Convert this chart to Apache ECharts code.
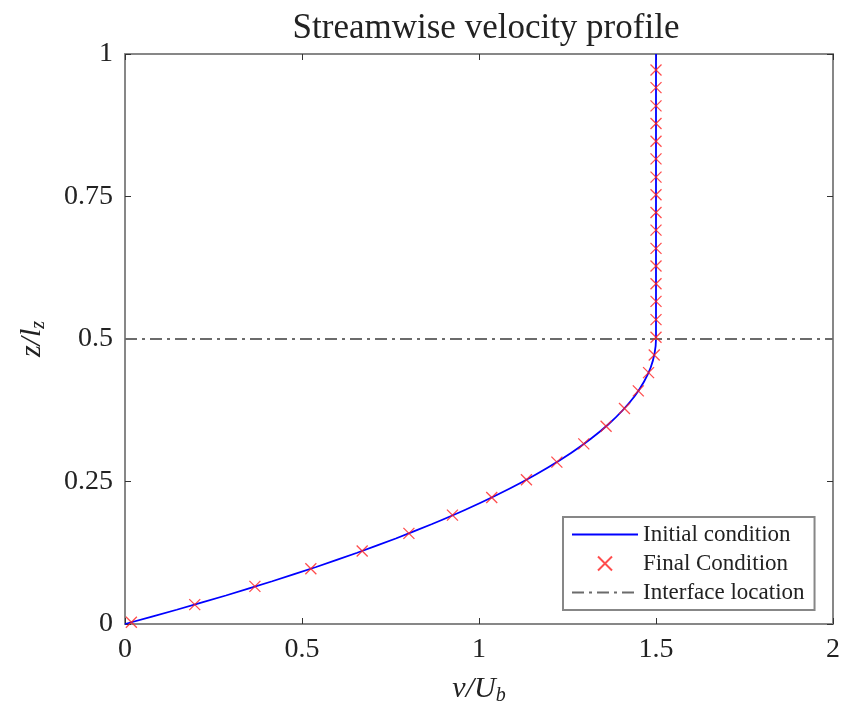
<!DOCTYPE html>
<html>
<head>
<meta charset="utf-8">
<script src="https://cdn.jsdelivr.net/npm/echarts@6/dist/echarts.min.js"></script>
<style>
  html, body { margin: 0; padding: 0; background: #fff; }
  #chart { width: 843px; height: 713px; }
</style>
</head>
<body>
<div id="chart"></div>
<script>
// initial condition profile (v/U_b, z/l_z)
const initialV = [0, 0.146, 0.285, 0.416, 0.54, 0.656, 0.765, 0.866, 0.96, 1.046, 1.125,
  1.196, 1.26, 1.316, 1.365, 1.406, 1.44, 1.466, 1.485, 1.496, 1.5, 1.5];
const initialZ = [0, 0.025, 0.05, 0.075, 0.1, 0.125, 0.15, 0.175, 0.2, 0.225, 0.25,
  0.275, 0.3, 0.325, 0.35, 0.375, 0.4, 0.425, 0.45, 0.475, 0.5, 1.0];

// final condition samples
const finalV = [0.018, 0.197, 0.367, 0.525, 0.67, 0.802, 0.925, 1.036, 1.134, 1.22, 1.296,
  1.359, 1.411, 1.45, 1.479, 1.495, 1.5, 1.5, 1.5, 1.5, 1.5, 1.5, 1.5, 1.5,
  1.5, 1.5, 1.5, 1.5, 1.5, 1.5, 1.5, 1.5];
const finalZ = [0.003, 0.034, 0.066, 0.097, 0.128, 0.159, 0.191, 0.222, 0.253, 0.284, 0.316,
  0.347, 0.378, 0.409, 0.441, 0.472, 0.503, 0.534, 0.566, 0.597, 0.628, 0.659, 0.691, 0.722,
  0.753, 0.784, 0.816, 0.847, 0.878, 0.909, 0.941, 0.972];

const interfaceV = [0, 2];
const interfaceZ = [0.5, 0.5];

const FONT = "'Liberation Serif', 'DejaVu Serif', serif";
const AXIS_GRAY = "#878787";

function pairs(xs, ys) {
  return xs.map((x, i) => [x, ys[i]]);
}

function fmt(v) {
  return String(v);
}

const chart = echarts.init(document.getElementById("chart"));

const baseAxis = {
  type: "value",
  axisLine: { show: true, onZero: false, lineStyle: { color: AXIS_GRAY, width: 2 } },
  axisTick: { show: true, inside: true, length: 6, lineStyle: { color: "#333", width: 1 } },
  splitLine: { show: false }
};

const nameRich = {
  i: { fontFamily: FONT, fontStyle: "italic", fontSize: 30, color: "#222" },
  s: { fontFamily: FONT, fontStyle: "italic", fontSize: 20, color: "#222", padding: [14, 0, 0, 0] }
};

const option = {
  animation: false,
  backgroundColor: "#fff",
  title: {
    text: "Streamwise velocity profile",
    left: 481,
    top: 6,
    textAlign: "center",
    textStyle: { fontFamily: FONT, fontWeight: "normal", fontSize: 35, color: "#222" }
  },
  grid: { left: 125, right: 7, top: 54, bottom: 89 },
  legend: {
    orient: "vertical",
    left: 563,
    top: 517,
    padding: [6, 10, 6, 8],
    itemWidth: 66,
    itemHeight: 14,
    itemGap: 6,
    backgroundColor: "#fff",
    borderColor: AXIS_GRAY,
    borderWidth: 2,
    textStyle: { fontFamily: FONT, fontSize: 23, color: "#222", lineHeight: 22 },
    data: [
      { name: "Initial condition", itemStyle: { opacity: 0 } },
      { name: "Final Condition" },
      { name: "Interface location", itemStyle: { opacity: 0 } }
    ]
  },
  xAxis: [
    Object.assign({}, baseAxis, {
      position: "bottom",
      min: 0, max: 2, interval: 0.5,
      name: "{i|v/U}{s|b}",
      nameLocation: "middle",
      nameGap: 48,
      nameTextStyle: { rich: nameRich },
      axisLabel: { fontFamily: FONT, fontSize: 28, color: "#222", margin: 12, formatter: fmt }
    }),
    Object.assign({}, baseAxis, {
      position: "top",
      min: 0, max: 2, interval: 0.5,
      axisLabel: { show: false }
    })
  ],
  yAxis: [
    Object.assign({}, baseAxis, {
      position: "left",
      min: 0, max: 1, interval: 0.25,
      name: "{i|z/l}{s|z}",
      nameLocation: "middle",
      nameRotate: 90,
      nameGap: 76,
      nameTextStyle: { rich: nameRich },
      axisLabel: { fontFamily: FONT, fontSize: 28, color: "#222", margin: 12, formatter: fmt }
    }),
    Object.assign({}, baseAxis, {
      position: "right",
      min: 0, max: 1, interval: 0.25,
      axisLabel: { show: false }
    })
  ],
  series: [
    {
      name: "Initial condition",
      type: "line",
      data: pairs(initialV, initialZ),
      showSymbol: false,
      symbol: "none",
      smooth: 0.2,
      lineStyle: { color: "#0000ff", width: 1.8 },
      itemStyle: { color: "#0000ff" },
      z: 2
    },
    {
      name: "Final Condition",
      type: "scatter",
      data: pairs(finalV, finalZ),
      symbol: "path://M0,0L10,10M10,0L0,10",
      symbolSize: 11,
      itemStyle: { color: "transparent", borderColor: "#ff2020", borderWidth: 1.3 },
      z: 3
    },
    {
      name: "Interface location",
      type: "line",
      data: pairs(interfaceV, interfaceZ),
      symbol: "none",
      lineStyle: { color: "#6b6b6b", width: 2, type: [12, 5, 3, 5] },
      itemStyle: { color: "#6b6b6b" },
      z: 2
    }
  ]
};

chart.setOption(option);
</script>
</body>
</html>
